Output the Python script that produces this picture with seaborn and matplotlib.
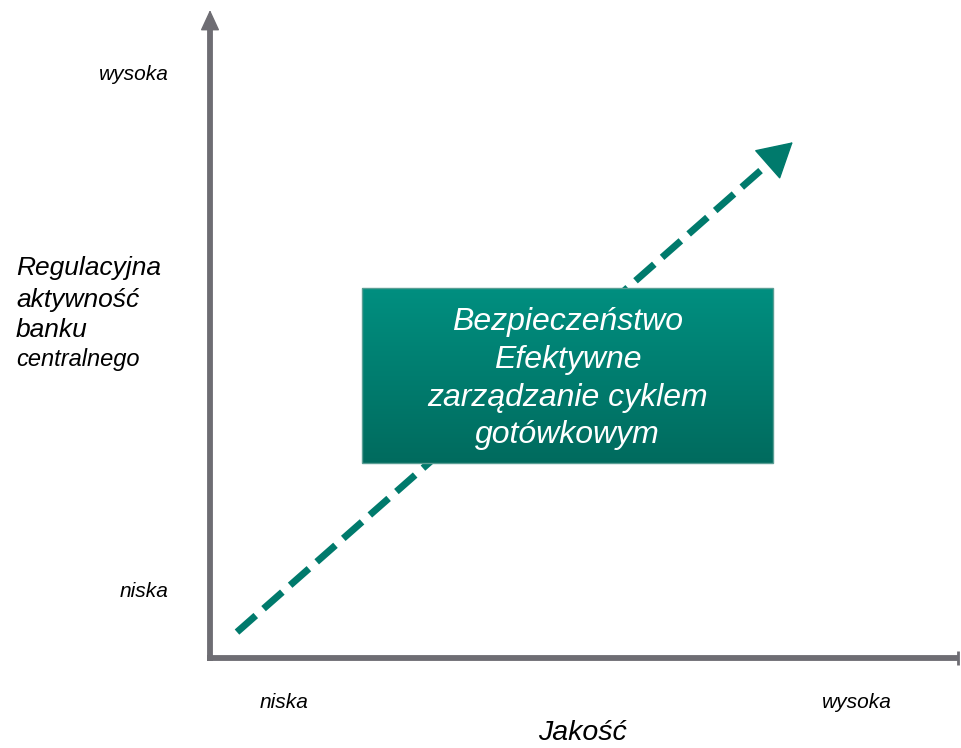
import numpy as np
import matplotlib
matplotlib.use('Agg')
import matplotlib.pyplot as plt
import seaborn as sns

sns.set_style("white")
plt.rcParams['font.family'] = ['Liberation Sans', 'DejaVu Sans']
plt.rcParams['text.color'] = 'black'
plt.rcParams['xtick.color'] = 'black'
plt.rcParams['ytick.color'] = 'black'

# ── dane (współrzędne w jednostkach osi 0..1) ──
level_labels = ['niska', 'wysoka']
x_levels = [0.099, 0.863]
y_levels = [0.105, 0.904]
trend_x = [0.036, 0.777]
trend_y = [0.040, 0.796]
box_x = [0.203, 0.751]
box_y = [0.301, 0.571]
box_lines = ['Bezpieczeństwo', 'Efektywne', 'zarządzanie cyklem', 'gotówkowym']
ylabel_lines = ['Regulacyjna', 'aktywność', 'banku', 'centralnego']
ylabel_sizes = [19, 19, 19, 17]
xlabel = 'Jakość'

AXIS_C = '#6e6d73'
TEAL = '#007a6c'

W, H = 962, 748
fig = plt.figure(figsize=(W / 100, H / 100), dpi=100)
ax = fig.add_axes([210 / W, (H - 658) / H, 750 / W, 648 / H])
ax.set_xlim(0, 1)
ax.set_ylim(0, 1)
for s in ax.spines.values():
    s.set_visible(False)

# osie z grotem
ax.plot([0, 0], [-0.004, 0.975], color=AXIS_C, lw=4.2, solid_capstyle='butt',
        clip_on=False, transform=ax.transAxes)
ax.annotate('', xy=(0, 1.0), xytext=(0, 0.97), xycoords='axes fraction',
            arrowprops=dict(arrowstyle='-|>,head_length=0.65,head_width=0.3',
                            mutation_scale=20, color=AXIS_C, lw=1, shrinkA=0, shrinkB=0),
            annotation_clip=False)
ax.plot([-0.0035, 0.998], [0, 0], color=AXIS_C, lw=4.2, solid_capstyle='butt',
        clip_on=False, transform=ax.transAxes)
ax.plot([0.998], [0], marker='|', ms=10, mew=2, color=AXIS_C,
        clip_on=False, transform=ax.transAxes)

# etykiety poziomów
ax.set_xticks(x_levels, level_labels)
ax.set_yticks(y_levels, level_labels)
ax.tick_params(axis='x', length=0, pad=25, labelsize=15)
ax.tick_params(axis='y', length=0, pad=30, labelsize=15)
for t in ax.get_xticklabels() + ax.get_yticklabels():
    t.set_style('italic')

# przerywana strzałka trendu
dx = trend_x[1] - trend_x[0]
dy = trend_y[1] - trend_y[0]
ax.plot([trend_x[0], trend_x[1] - dx * 0.035], [trend_y[0], trend_y[1] - dy * 0.035],
        color=TEAL, lw=5, dashes=(3.6, 1.5), dash_capstyle='butt', zorder=2)
ax.annotate('', xy=(trend_x[1], trend_y[1]),
            xytext=(trend_x[1] - dx * 0.04, trend_y[1] - dy * 0.04),
            arrowprops=dict(arrowstyle='-|>,head_length=1.15,head_width=0.65',
                            mutation_scale=20, color=TEAL, lw=1,
                            shrinkA=0, shrinkB=0), zorder=2)

# prostokąt z gradientem
grad = np.linspace(0, 1, 256).reshape(-1, 1)
cmap = matplotlib.colors.LinearSegmentedColormap.from_list('g', ['#006b5e', '#008f80'])
ax.imshow(grad, cmap=cmap, origin='lower',
          extent=[box_x[0], box_x[1], box_y[0], box_y[1]],
          aspect='auto', zorder=3)
ax.add_patch(plt.Rectangle((box_x[0], box_y[0]), box_x[1] - box_x[0], box_y[1] - box_y[0],
                           fill=False, ec='#5a9e94', lw=1, zorder=4))
ax.set_xlim(0, 1)
ax.set_ylim(0, 1)
ax.text((box_x[0] + box_x[1]) / 2, (box_y[0] + box_y[1]) / 2 - 0.005, '\n'.join(box_lines),
        ha='center', va='center', color='white', fontsize=23, style='italic',
        linespacing=1.33, zorder=5)

# opisy osi
ys = [268, 300, 330, 360]
for line, size, yp in zip(ylabel_lines, ylabel_sizes, ys):
    fig.text(16 / W, 1 - yp / H, line, ha='left', va='center', fontsize=size, style='italic')
fig.text(582 / W, 1 - 733 / H, xlabel, ha='center', va='center', fontsize=20.5, style='italic')

fig.savefig('out.png', dpi=100)
